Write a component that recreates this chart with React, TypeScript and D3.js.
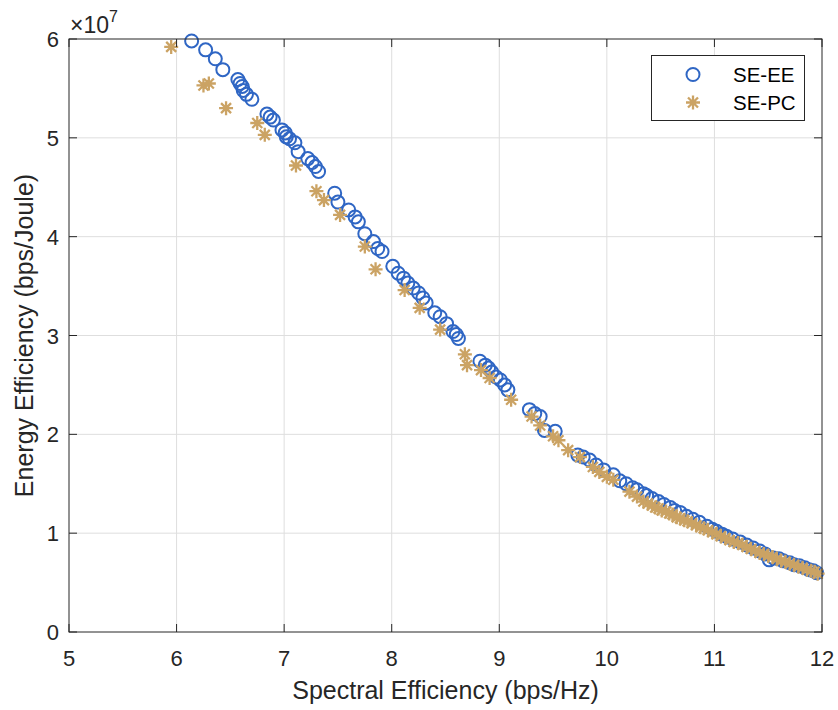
import { useEffect, useRef } from 'react';
import * as d3 from 'd3';

// Energy efficiency values are in units of 1e7 bps/Joule
const eeSpectral = [
    6.14, 6.27, 6.36, 6.43, 6.57, 6.59, 6.61, 6.62, 6.65, 6.70,
    6.84, 6.87, 6.90, 6.98, 7.01, 7.02, 7.05, 7.10, 7.13, 7.22,
    7.26, 7.29, 7.32, 7.47, 7.50, 7.60, 7.66, 7.69, 7.75, 7.83,
    7.87, 7.91, 8.01, 8.06, 8.11, 8.15, 8.20, 8.25, 8.29, 8.32,
    8.40, 8.45, 8.51, 8.57, 8.60, 8.62, 8.82, 8.87, 8.90, 8.93,
    8.97, 9.01, 9.05, 9.08, 9.28, 9.33, 9.38, 9.42, 9.52, 9.73,
    9.78, 9.84, 9.90, 9.97, 10.06, 10.12, 10.18, 10.24, 10.28, 10.34,
    10.37, 10.42, 10.48, 10.53, 10.59, 10.63, 10.68, 10.74, 10.80, 10.86,
    10.93, 10.98, 11.02, 11.07, 11.11, 11.17, 11.24, 11.30, 11.36, 11.42,
    11.47, 11.51, 11.55, 11.60, 11.64, 11.70, 11.74, 11.79, 11.84, 11.88,
    11.92, 11.95,
];
const eeEnergy = [
    5.98, 5.89, 5.80, 5.69, 5.59, 5.55, 5.52, 5.48, 5.44, 5.39,
    5.24, 5.21, 5.18, 5.08, 5.05, 5.01, 4.99, 4.95, 4.86, 4.79,
    4.75, 4.71, 4.66, 4.44, 4.35, 4.27, 4.20, 4.15, 4.03, 3.95,
    3.88, 3.85, 3.70, 3.63, 3.58, 3.53, 3.48, 3.43, 3.38, 3.33,
    3.23, 3.19, 3.12, 3.04, 3.01, 2.97, 2.74, 2.70, 2.67, 2.63,
    2.58, 2.55, 2.50, 2.45, 2.25, 2.21, 2.18, 2.04, 2.03, 1.79,
    1.77, 1.74, 1.69, 1.64, 1.59, 1.53, 1.50, 1.46, 1.44, 1.40,
    1.38, 1.35, 1.32, 1.29, 1.26, 1.23, 1.21, 1.17, 1.14, 1.11,
    1.07, 1.04, 1.02, 0.99, 0.97, 0.94, 0.91, 0.88, 0.85, 0.82,
    0.79, 0.73, 0.75, 0.74, 0.72, 0.70, 0.68, 0.67, 0.65, 0.63,
    0.62, 0.60,
];

const pcSpectral = [
    5.95, 6.25, 6.30, 6.46, 6.75, 6.82, 7.11, 7.30, 7.37, 7.52,
    7.75, 7.85, 8.12, 8.26, 8.45, 8.68, 8.70, 8.83, 8.91, 9.11,
    9.30, 9.38, 9.50, 9.55, 9.64, 9.75, 9.87, 9.93, 10.00, 10.06,
    10.21, 10.28, 10.34, 10.38, 10.42, 10.45, 10.48, 10.51, 10.55, 10.58,
    10.61, 10.65, 10.68, 10.72, 10.75, 10.79, 10.83, 10.87, 10.90, 10.94,
    10.98, 11.02, 11.06, 11.10, 11.14, 11.18, 11.22, 11.26, 11.30, 11.34,
    11.38, 11.42, 11.46, 11.50, 11.54, 11.58, 11.62, 11.66, 11.70, 11.74,
    11.78, 11.82, 11.86, 11.90, 11.93, 11.96,
];
const pcEnergy = [
    5.92, 5.53, 5.55, 5.30, 5.15, 5.03, 4.72, 4.46, 4.37, 4.22,
    3.90, 3.67, 3.46, 3.28, 3.06, 2.81, 2.70, 2.65, 2.57, 2.35,
    2.18, 2.09, 1.98, 1.94, 1.84, 1.77, 1.67, 1.62, 1.57, 1.54,
    1.42, 1.37, 1.32, 1.30, 1.28, 1.26, 1.25, 1.23, 1.22, 1.20,
    1.19, 1.16, 1.15, 1.13, 1.12, 1.10, 1.08, 1.06, 1.05, 1.03,
    1.01, 0.99, 0.97, 0.95, 0.93, 0.91, 0.90, 0.88, 0.86, 0.84,
    0.82, 0.80, 0.79, 0.77, 0.76, 0.74, 0.72, 0.71, 0.69, 0.68,
    0.66, 0.65, 0.63, 0.62, 0.61, 0.59,
];

const xTicks = [5, 6, 7, 8, 9, 10, 11, 12];
const yTicks = [0, 1, 2, 3, 4, 5, 6];
const seriesNames = ["SE-EE", "SE-PC"];

const blue = "#2f66c4";
const tan = "#cba364";
const axisColor = "#262626";
const font = "'Liberation Sans', Arial, Helvetica, sans-serif";

const starPath = "M-7,0L7,0M0,-7L0,7M-5,-5L5,5M-5,5L5,-5";

const App = () => {
    const ref = useRef<SVGSVGElement>(null);

    useEffect(() => {
        document.body.style.margin = "0";
        const svg = d3.select(ref.current);
        svg.selectAll("*").remove();

        const left = 69, right = 822, top = 39, bottom = 632;
        const x = d3.scaleLinear().domain([5, 12]).range([left, right]);
        const y = d3.scaleLinear().domain([0, 6]).range([bottom, top]);

        svg.append("rect")
            .attr("width", 838).attr("height", 710).attr("fill", "#fff");

        // grid
        const grid = svg.append("g").attr("stroke", "#dedede").attr("stroke-width", 1);
        xTicks.slice(1, -1).forEach((t) => {
            grid.append("line").attr("x1", x(t)).attr("x2", x(t)).attr("y1", top).attr("y2", bottom);
        });
        yTicks.slice(1, -1).forEach((t) => {
            grid.append("line").attr("y1", y(t)).attr("y2", y(t)).attr("x1", left).attr("x2", right);
        });

        // SE-EE circles
        svg.append("g")
            .selectAll("circle")
            .data(d3.zip(eeSpectral, eeEnergy))
            .join("circle")
            .attr("cx", (d) => x(d[0]))
            .attr("cy", (d) => y(d[1]))
            .attr("r", 6.5)
            .attr("fill", "none")
            .attr("stroke", blue)
            .attr("stroke-width", 2);

        // SE-PC stars
        svg.append("g")
            .selectAll("path")
            .data(d3.zip(pcSpectral, pcEnergy))
            .join("path")
            .attr("transform", (d) => "translate(" + x(d[0]) + "," + y(d[1]) + ")")
            .attr("d", starPath)
            .attr("fill", "none")
            .attr("stroke", tan)
            .attr("stroke-width", 2.3);

        // box
        svg.append("rect")
            .attr("x", left).attr("y", top)
            .attr("width", right - left).attr("height", bottom - top)
            .attr("fill", "none").attr("stroke", axisColor).attr("stroke-width", 1);

        // ticks (inward, all four sides)
        const ticks = svg.append("g").attr("stroke", axisColor).attr("stroke-width", 1);
        xTicks.forEach((t) => {
            ticks.append("line").attr("x1", x(t)).attr("x2", x(t)).attr("y1", bottom).attr("y2", bottom - 8);
            ticks.append("line").attr("x1", x(t)).attr("x2", x(t)).attr("y1", top).attr("y2", top + 8);
        });
        yTicks.forEach((t) => {
            ticks.append("line").attr("y1", y(t)).attr("y2", y(t)).attr("x1", left).attr("x2", left + 8);
            ticks.append("line").attr("y1", y(t)).attr("y2", y(t)).attr("x1", right).attr("x2", right - 8);
        });

        const labels = svg.append("g")
            .style("font-family", font)
            .attr("fill", axisColor);

        xTicks.forEach((t) => {
            labels.append("text")
                .attr("x", x(t)).attr("y", bottom + 34)
                .attr("text-anchor", "middle")
                .style("font-size", "22px")
                .text(t);
        });
        yTicks.forEach((t) => {
            labels.append("text")
                .attr("x", left - 10).attr("y", y(t) + 8)
                .attr("text-anchor", "end")
                .style("font-size", "22px")
                .text(t);
        });

        // exponent
        const expo = labels.append("text")
            .attr("x", 70).attr("y", 33)
            .style("font-size", "23px");
        expo.append("tspan").text("×10");
        expo.append("tspan").attr("dy", -11).style("font-size", "16px").text("7");

        labels.append("text")
            .attr("x", (left + right) / 2).attr("y", 699)
            .attr("text-anchor", "middle")
            .style("font-size", "25px")
            .text("Spectral Efficiency (bps/Hz)");

        labels.append("text")
            .attr("transform", "translate(33," + (top + bottom) / 2 + ") rotate(-90)")
            .attr("text-anchor", "middle")
            .style("font-size", "25px")
            .text("Energy Efficiency (bps/Joule)");

        // legend
        const lg = svg.append("g");
        lg.append("rect")
            .attr("x", 651.5).attr("y", 55.5)
            .attr("width", 153).attr("height", 65)
            .attr("fill", "#fff").attr("stroke", axisColor).attr("stroke-width", 1);
        lg.append("circle")
            .attr("cx", 693).attr("cy", 74.5).attr("r", 6.5)
            .attr("fill", "none").attr("stroke", blue).attr("stroke-width", 2);
        lg.append("path")
            .attr("transform", "translate(693,102.5)")
            .attr("d", starPath)
            .attr("fill", "none").attr("stroke", tan).attr("stroke-width", 2.3);
        seriesNames.forEach((name, i) => {
            lg.append("text")
                .attr("x", 733).attr("y", 82 + i * 28)
                .style("font-family", font)
                .style("font-size", "20.5px")
                .attr("fill", "#000")
                .text(name);
        });
    }, []);

    return <svg ref={ref} width={838} height={710} style={{ display: "block" }} />;
};

export default App;
